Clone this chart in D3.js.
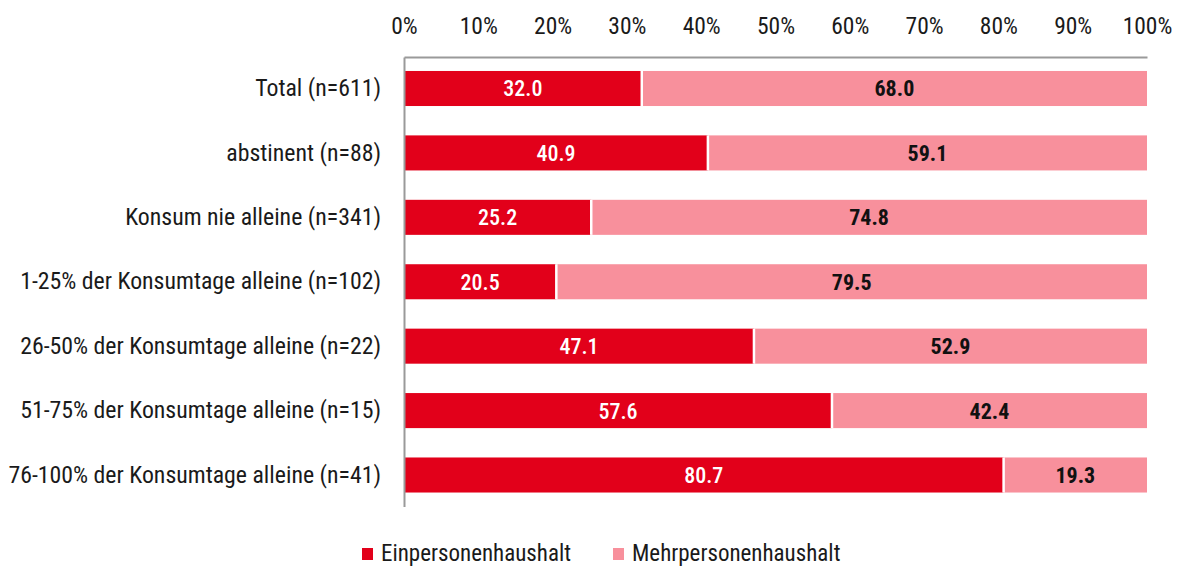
<!DOCTYPE html>
<html>
<head>
<meta charset="utf-8">
<script src="https://cdn.jsdelivr.net/npm/d3@7"></script>
<style>
  body { margin: 0; background: #fff; }
  svg text { font-family: "Roboto Condensed", "Liberation Sans", sans-serif; }
</style>
</head>
<body>
<svg id="chart" width="1177" height="568"></svg>
<script>
const categories = [
  "Total (n=611)",
  "abstinent (n=88)",
  "Konsum nie alleine (n=341)",
  "1-25% der Konsumtage alleine (n=102)",
  "26-50% der Konsumtage alleine (n=22)",
  "51-75% der Konsumtage alleine (n=15)",
  "76-100% der Konsumtage alleine (n=41)"
];
const einperson = [32.0, 40.9, 25.2, 20.5, 47.1, 57.6, 80.7];
const mehrperson = [68.0, 59.1, 74.8, 79.5, 52.9, 42.4, 19.3];
const seriesNames = ["Einpersonenhaushalt", "Mehrpersonenhaushalt"];
const xTicks = [0, 10, 20, 30, 40, 50, 60, 70, 80, 90, 100];

const colors = ["#E2001A", "#F8909C"];
const textColor = "#1a1a1a";
const fontFam = "'Roboto Condensed', 'Liberation Sans', sans-serif";

const svg = d3.select("#chart");

const x = d3.scaleLinear()
  .domain([0, 100])
  .range([404, 1147]);

const y = d3.scaleBand()
  .domain(categories)
  .range([57, 506.5])
  .paddingInner(0.456)
  .paddingOuter(0.217);

const rows = categories.map((c, i) => ({ cat: c, a: einperson[i], b: mehrperson[i] }));

// bars
const g = svg.append("g");
rows.forEach(d => {
  let top = y(d.cat), h = y.bandwidth();
  g.append("rect")
    .attr("x", x(0))
    .attr("y", top)
    .attr("width", x(d.a) - x(0))
    .attr("height", h)
    .attr("fill", colors[0]);
  g.append("rect")
    .attr("x", x(d.a))
    .attr("y", top)
    .attr("width", x(d.a + d.b) - x(d.a))
    .attr("height", h)
    .attr("fill", colors[1]);
  // white gap between segments
  g.append("line")
    .attr("x1", x(d.a)).attr("x2", x(d.a))
    .attr("y1", top).attr("y2", top + h)
    .attr("stroke", "#fff")
    .attr("stroke-width", 2.5);

  g.append("text")
    .attr("x", (x(0) + x(d.a)) / 2)
    .attr("y", top + h / 2)
    .attr("dy", "0.36em")
    .attr("text-anchor", "middle")
    .attr("font-size", 22)
    .attr("font-weight", 500)
    .attr("fill", "#fff")
    .text(d.a.toFixed(1));
  g.append("text")
    .attr("x", (x(d.a) + x(d.a + d.b)) / 2)
    .attr("y", top + h / 2)
    .attr("dy", "0.36em")
    .attr("text-anchor", "middle")
    .attr("font-size", 22)
    .attr("font-weight", 700)
    .attr("fill", "#111")
    .text(d.b.toFixed(1));
});

// top axis
const xAxis = d3.axisTop(x)
  .tickValues(xTicks)
  .tickSize(0)
  .tickPadding(23)
  .tickFormat(d => d + "%");
const gx = svg.append("g")
  .attr("transform", "translate(0,57)")
  .call(xAxis);
gx.select(".domain").attr("stroke", "#9a9a9a").attr("stroke-width", 2);
gx.selectAll("text").attr("font-size", 23.5).attr("fill", textColor)
  .style("font-family", fontFam);

// left axis
const yAxis = d3.axisLeft(y).tickSize(0).tickPadding(23);
const gy = svg.append("g")
  .attr("transform", "translate(404,0)")
  .call(yAxis);
gy.select(".domain").attr("stroke", "#9a9a9a").attr("stroke-width", 2);
gy.selectAll("text").attr("font-size", 23.8).attr("fill", textColor)
  .style("font-family", fontFam);

// legend
const legendX = [362, 613];
const legend = svg.append("g");
seriesNames.forEach((name, i) => {
  legend.append("rect")
    .attr("x", legendX[i])
    .attr("y", 548)
    .attr("width", 11)
    .attr("height", 12)
    .attr("fill", colors[i]);
  legend.append("text")
    .attr("x", legendX[i] + 19)
    .attr("y", 553)
    .attr("dy", "0.36em")
    .attr("font-size", 23)
    .attr("fill", textColor)
    .text(name);
});
</script>
</body>
</html>
